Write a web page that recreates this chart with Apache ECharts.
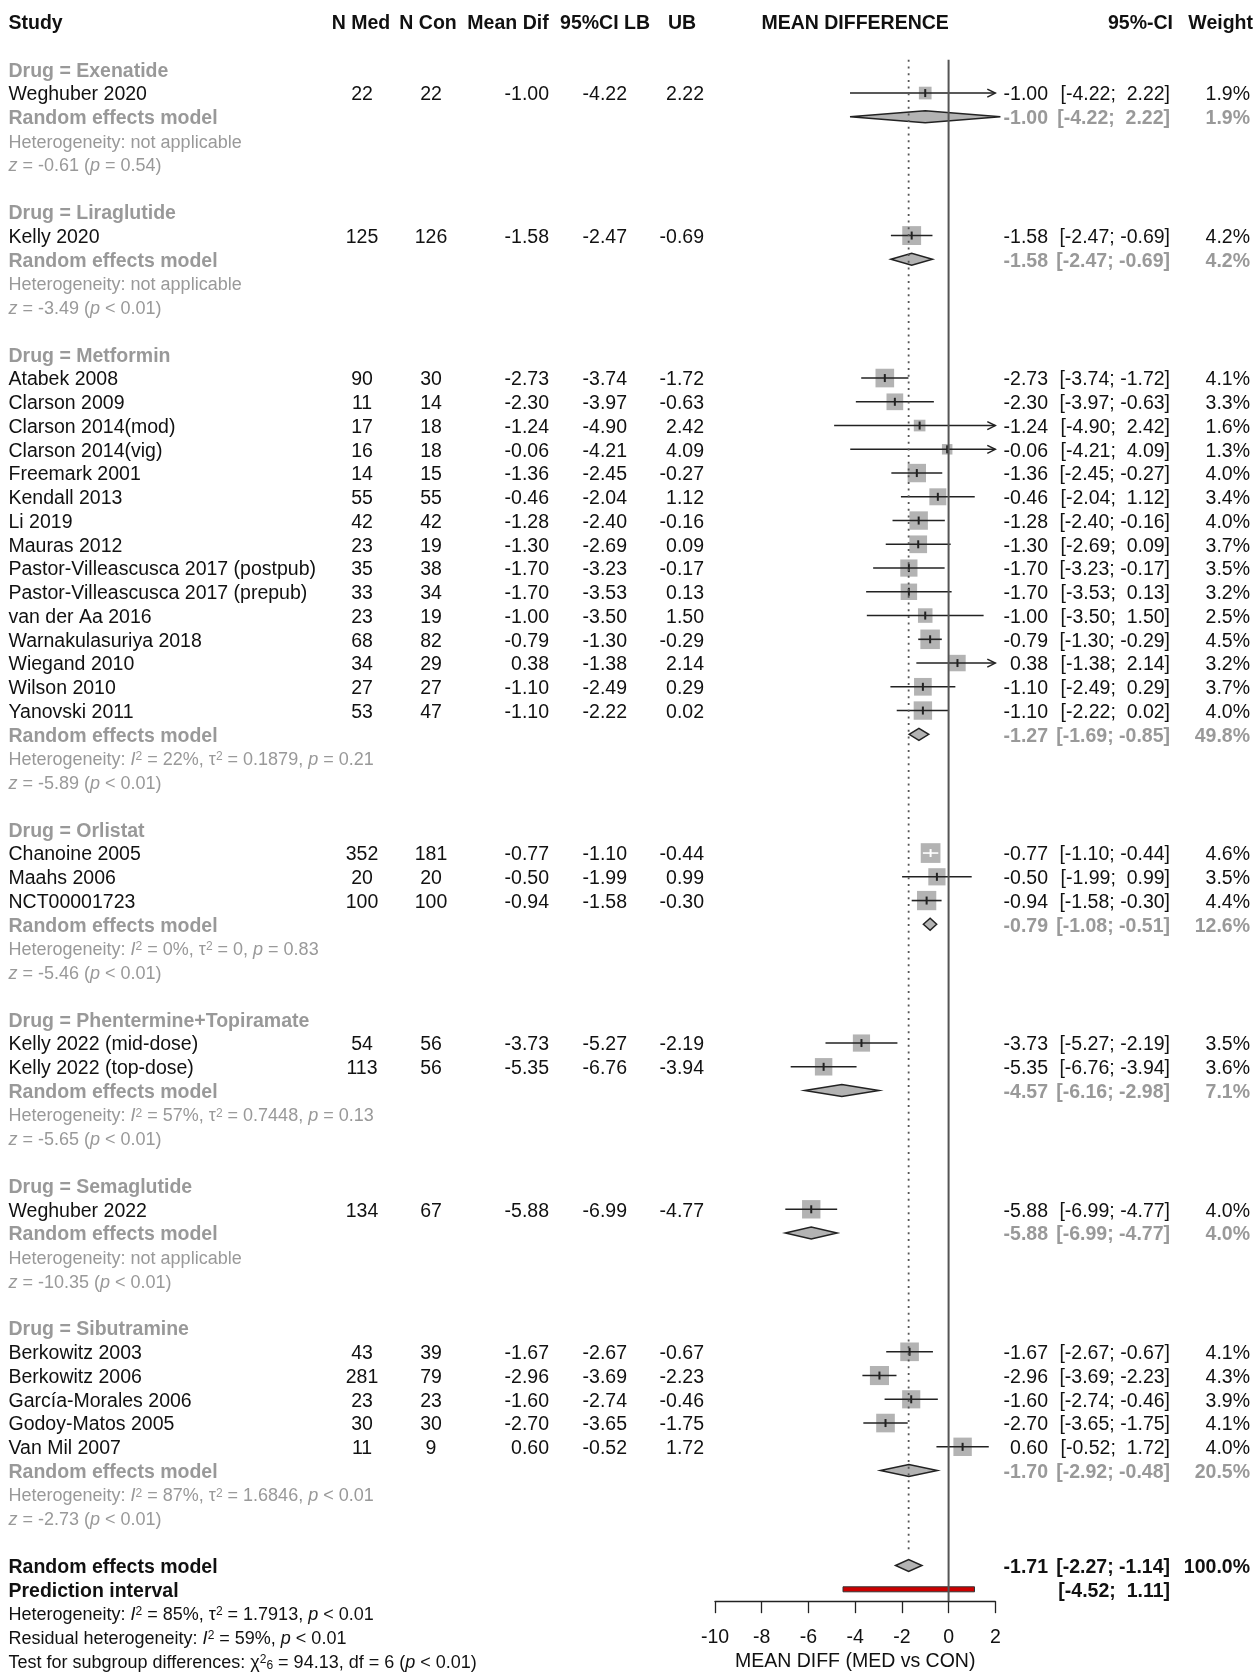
<!DOCTYPE html>
<html>
<head>
<meta charset="utf-8">
<script src="https://cdn.jsdelivr.net/npm/echarts@6/dist/echarts.min.js"></script>
<style>
  html, body { margin: 0; padding: 0; background: #fff; }
  #chart { width: 1254px; height: 1672px; }
</style>
</head>
<body>
<div id="chart"></div>
<script>
// ---- data ----
const drugs = ['Exenatide', 'Liraglutide', 'Metformin', 'Orlistat', 'Phentermine+Topiramate', 'Semaglutide', 'Sibutramine'];

const studies = [
  'Weghuber 2020',
  'Kelly 2020',
  'Atabek 2008', 'Clarson 2009', 'Clarson 2014(mod)', 'Clarson 2014(vig)', 'Freemark 2001', 'Kendall 2013',
  'Li 2019', 'Mauras 2012', 'Pastor-Villeascusca 2017 (postpub)', 'Pastor-Villeascusca 2017 (prepub)',
  'van der Aa 2016', 'Warnakulasuriya 2018', 'Wiegand 2010', 'Wilson 2010', 'Yanovski 2011',
  'Chanoine 2005', 'Maahs 2006', 'NCT00001723',
  'Kelly 2022 (mid-dose)', 'Kelly 2022 (top-dose)',
  'Weghuber 2022',
  'Berkowitz 2003', 'Berkowitz 2006', 'García-Morales 2006', 'Godoy-Matos 2005', 'Van Mil 2007'
];
const studyDrug = [0, 1, 2, 2, 2, 2, 2, 2, 2, 2, 2, 2, 2, 2, 2, 2, 2, 3, 3, 3, 4, 4, 5, 6, 6, 6, 6, 6];
const nMed = [22, 125, 90, 11, 17, 16, 14, 55, 42, 23, 35, 33, 23, 68, 34, 27, 53, 352, 20, 100, 54, 113, 134, 43, 281, 23, 30, 11];
const nCon = [22, 126, 30, 14, 18, 18, 15, 55, 42, 19, 38, 34, 19, 82, 29, 27, 47, 181, 20, 100, 56, 56, 67, 39, 79, 23, 30, 9];
const meanDif = [-1.00, -1.58, -2.73, -2.30, -1.24, -0.06, -1.36, -0.46, -1.28, -1.30, -1.70, -1.70, -1.00, -0.79, 0.38, -1.10, -1.10,
  -0.77, -0.50, -0.94, -3.73, -5.35, -5.88, -1.67, -2.96, -1.60, -2.70, 0.60];
const ciLB = [-4.22, -2.47, -3.74, -3.97, -4.90, -4.21, -2.45, -2.04, -2.40, -2.69, -3.23, -3.53, -3.50, -1.30, -1.38, -2.49, -2.22,
  -1.10, -1.99, -1.58, -5.27, -6.76, -6.99, -2.67, -3.69, -2.74, -3.65, -0.52];
const ciUB = [2.22, -0.69, -1.72, -0.63, 2.42, 4.09, -0.27, 1.12, -0.16, 0.09, -0.17, 0.13, 1.50, -0.29, 2.14, 0.29, 0.02,
  -0.44, 0.99, -0.30, -2.19, -3.94, -4.77, -0.67, -2.23, -0.46, -1.75, 1.72];
const weight = [1.9, 4.2, 4.1, 3.3, 1.6, 1.3, 4.0, 3.4, 4.0, 3.7, 3.5, 3.2, 2.5, 4.5, 3.2, 3.7, 4.0,
  4.6, 3.5, 4.4, 3.5, 3.6, 4.0, 4.1, 4.3, 3.9, 4.1, 4.0];

const subMean = [-1.00, -1.58, -1.27, -0.79, -4.57, -5.88, -1.70];
const subLB = [-4.22, -2.47, -1.69, -1.08, -6.16, -6.99, -2.92];
const subUB = [2.22, -0.69, -0.85, -0.51, -2.98, -4.77, -0.48];
const subWeight = [1.9, 4.2, 49.8, 12.6, 7.1, 4.0, 20.5];
const subHet = [
  'Heterogeneity: not applicable',
  'Heterogeneity: not applicable',
  'Heterogeneity: {i|I}{s|2} = 22%, τ{s|2} = 0.1879, {i|p} = 0.21',
  'Heterogeneity: {i|I}{s|2} = 0%, τ{s|2} = 0, {i|p} = 0.83',
  'Heterogeneity: {i|I}{s|2} = 57%, τ{s|2} = 0.7448, {i|p} = 0.13',
  'Heterogeneity: not applicable',
  'Heterogeneity: {i|I}{s|2} = 87%, τ{s|2} = 1.6846, {i|p} < 0.01'
];
const subZ = [
  '{i|z} = -0.61 ({i|p} = 0.54)',
  '{i|z} = -3.49 ({i|p} < 0.01)',
  '{i|z} = -5.89 ({i|p} < 0.01)',
  '{i|z} = -5.46 ({i|p} < 0.01)',
  '{i|z} = -5.65 ({i|p} < 0.01)',
  '{i|z} = -10.35 ({i|p} < 0.01)',
  '{i|z} = -2.73 ({i|p} < 0.01)'
];

const overall = [-1.71, -2.27, -1.14, 100.0];   // mean, lb, ub, weight
const predInt = [-4.52, 1.11];
const overallNotes = [
  'Heterogeneity: {i|I}{s|2} = 85%, τ{s|2} = 1.7913, {i|p} < 0.01',
  'Residual heterogeneity: {i|I}{s|2} = 59%, {i|p} < 0.01',
  'Test for subgroup differences: χ{s|2}{b|6} = 94.13, df = 6 ({i|p} < 0.01)'
];

const xMin = -10, xMax = 2, xStep = 2;

// ---- layout ----
const W = 1254, H = 1672;
const ROW0 = 69.3, ROWH = 23.75;
const rowY = r => ROW0 + r * ROWH;
const R_TOP = -0.4, R_AXIS = 64.5, R_DOT_END = 62.5;
const PLOT_L = 715, PLOT_R = 995.3;
const TEXT_DY = 2;

const COL = { study: 8.5, nMed: 362, nCon: 431, md: 549, lb: 627, ub: 704, est: 1048, ci: 1170, w: 1250 };
const FONT = "'Liberation Sans', Arial, Helvetica, sans-serif";
const GREY = '#999999';
const BLACK = '#111111';
const SQUARE_FILL = '#b3b3b3';
const SQUARE_K = 9.2;

const styles = {
  head:  { fontWeight: 'bold', fontSize: 19.5, fill: BLACK },
  group: { fontWeight: 'bold', fontSize: 19.5, fill: GREY },
  study: { fontWeight: 'normal', fontSize: 19.5, fill: BLACK },
  sub:   { fontWeight: 'bold', fontSize: 19.5, fill: GREY },
  het:   { fontWeight: 'normal', fontSize: 18, fill: GREY },
  total: { fontWeight: 'bold', fontSize: 19.5, fill: BLACK },
  note:  { fontWeight: 'normal', fontSize: 18, fill: BLACK }
};

function richFor(color) {
  return {
    i: { fontStyle: 'italic', fontSize: 18, fontFamily: FONT, fill: color },
    s: { fontSize: 12, fontFamily: FONT, fill: color, verticalAlign: 'top' },
    b: { fontSize: 12, fontFamily: FONT, fill: color, verticalAlign: 'bottom' }
  };
}

const fmt = v => v.toFixed(2);
const fmtCI = (lo, hi) => '[' + (lo >= 0 ? ' ' : '') + fmt(lo) + ';' + (hi >= 0 ? '  ' : ' ') + fmt(hi) + ']';

const texts = [];
function addText(x, row, text, align, style) {
  texts.push({ x, row, text, align, style });
}

// header
addText(COL.study, -2, 'Study', 'left', 'head');
addText(361, -2, 'N Med', 'center', 'head');
addText(428, -2, 'N Con', 'center', 'head');
addText(508, -2, 'Mean Dif', 'center', 'head');
addText(605, -2, '95%CI LB', 'center', 'head');
addText(682, -2, 'UB', 'center', 'head');
addText((PLOT_L + PLOT_R) / 2, -2, 'MEAN DIFFERENCE', 'center', 'head');
addText(1173, -2, '95%-CI', 'right', 'head');
addText(1253, -2, 'Weight', 'right', 'head');

const studyData = [];
const diamondData = [];
let r = 0;
drugs.forEach((d, g) => {
  addText(COL.study, r, 'Drug = ' + d, 'left', 'group');
  r++;
  studies.forEach((s, i) => {
    if (studyDrug[i] !== g) return;
    addText(COL.study, r, s, 'left', 'study');
    addText(COL.nMed, r, String(nMed[i]), 'center', 'study');
    addText(COL.nCon, r, String(nCon[i]), 'center', 'study');
    addText(COL.md, r, fmt(meanDif[i]), 'right', 'study');
    addText(COL.lb, r, fmt(ciLB[i]), 'right', 'study');
    addText(COL.ub, r, fmt(ciUB[i]), 'right', 'study');
    addText(COL.est, r, fmt(meanDif[i]), 'right', 'study');
    addText(COL.ci, r, fmtCI(ciLB[i], ciUB[i]), 'right', 'study');
    addText(COL.w, r, weight[i].toFixed(1) + '%', 'right', 'study');
    studyData.push([meanDif[i], ciLB[i], ciUB[i], weight[i], r]);
    r++;
  });
  addText(COL.study, r, 'Random effects model', 'left', 'sub');
  addText(COL.est, r, fmt(subMean[g]), 'right', 'sub');
  addText(COL.ci, r, fmtCI(subLB[g], subUB[g]), 'right', 'sub');
  addText(COL.w, r, subWeight[g].toFixed(1) + '%', 'right', 'sub');
  diamondData.push([subMean[g], subLB[g], subUB[g], r]);
  r++;
  addText(COL.study, r, subHet[g], 'left', 'het');
  r++;
  addText(COL.study, r, subZ[g], 'left', 'het');
  r += 2;
});

const rowTotal = r;
addText(COL.study, rowTotal, 'Random effects model', 'left', 'total');
addText(COL.est, rowTotal, fmt(overall[0]), 'right', 'total');
addText(COL.ci, rowTotal, fmtCI(overall[1], overall[2]), 'right', 'total');
addText(COL.w, rowTotal, overall[3].toFixed(1) + '%', 'right', 'total');
diamondData.push([overall[0], overall[1], overall[2], rowTotal]);
addText(COL.study, rowTotal + 1, 'Prediction interval', 'left', 'total');
addText(COL.ci, rowTotal + 1, fmtCI(predInt[0], predInt[1]), 'right', 'total');
overallNotes.forEach((t, k) => addText(COL.study, rowTotal + 2 + k, t, 'left', 'note'));

// ---- render helpers ----
function renderStudy(params, api) {
  const m = api.value(0), lo = api.value(1), hi = api.value(2), w = api.value(3), row = api.value(4);
  const c = api.coord([m, row]);
  const y = c[1];
  const xLo = api.coord([Math.max(lo, xMin), row])[0];
  const xHi = api.coord([Math.min(hi, xMax), row])[0];
  const side = SQUARE_K * Math.sqrt(w);
  const inside = (xHi - xLo) < side;
  const lc = inside ? '#ffffff' : '#222222';
  const children = [
    { type: 'rect', shape: { x: c[0] - side / 2, y: y - side / 2, width: side, height: side }, style: { fill: SQUARE_FILL } },
    { type: 'line', shape: { x1: xLo, y1: y, x2: xHi, y2: y }, style: { stroke: lc, lineWidth: 1.6 } },
    { type: 'line', shape: { x1: c[0], y1: y - 4, x2: c[0], y2: y + 4 }, style: { stroke: lc, lineWidth: 2 } }
  ];
  if (hi > xMax) {
    children.push({ type: 'polyline', shape: { points: [[xHi - 8, y - 4], [xHi, y], [xHi - 8, y + 4]] },
      style: { stroke: '#222222', fill: 'none', lineWidth: 1.5 } });
  }
  if (lo < xMin) {
    children.push({ type: 'polyline', shape: { points: [[xLo + 8, y - 4], [xLo, y], [xLo + 8, y + 4]] },
      style: { stroke: '#222222', fill: 'none', lineWidth: 1.5 } });
  }
  return { type: 'group', children };
}

function renderDiamond(params, api) {
  const row = api.value(3);
  const c = api.coord([api.value(0), row]);
  const lo = api.coord([api.value(1), row]);
  const hi = api.coord([api.value(2), row]);
  const h = 6;
  return {
    type: 'polygon',
    shape: { points: [[lo[0], c[1]], [c[0], c[1] - h], [hi[0], c[1]], [c[0], c[1] + h]] },
    style: { fill: SQUARE_FILL, stroke: '#222222', lineWidth: 1.5 }
  };
}

function renderPred(params, api) {
  const row = api.value(2);
  const lo = api.coord([api.value(0), row]);
  const hi = api.coord([api.value(1), row]);
  return {
    type: 'rect',
    shape: { x: lo[0], y: lo[1] - 2.5, width: hi[0] - lo[0], height: 5 },
    style: { fill: '#cc0000', stroke: '#333333', lineWidth: 1 }
  };
}

function renderText(params, api) {
  const t = texts[params.dataIndex];
  const p = api.coord([t.x, t.row]);
  const st = styles[t.style];
  return {
    type: 'text',
    x: p[0],
    y: p[1] + TEXT_DY,
    style: {
      text: t.text,
      fontFamily: FONT,
      fontSize: st.fontSize,
      fontWeight: st.fontWeight,
      fill: st.fill,
      align: t.align,
      verticalAlign: 'middle',
      rich: richFor(st.fill)
    }
  };
}

// ---- chart ----
const chart = echarts.init(document.getElementById('chart'), null, { renderer: 'canvas' });

const option = {
  animation: false,
  backgroundColor: '#ffffff',
  grid: [
    { left: PLOT_L, width: PLOT_R - PLOT_L, top: rowY(R_TOP), height: rowY(R_AXIS) - rowY(R_TOP),
      outerBoundsMode: 'none', containLabel: false },
    { left: 0, top: 0, width: W, height: H, outerBoundsMode: 'none', containLabel: false }
  ],
  xAxis: [
    {
      gridIndex: 0, type: 'value', min: xMin, max: xMax, interval: xStep,
      name: 'MEAN DIFF (MED vs CON)', nameLocation: 'middle', nameGap: 50,
      nameTextStyle: { fontFamily: FONT, fontSize: 19.5, color: BLACK },
      axisLine: { onZero: false, lineStyle: { color: '#222222', width: 1.3 } },
      axisTick: { length: 12, lineStyle: { color: '#222222', width: 1.3 } },
      axisLabel: { fontFamily: FONT, fontSize: 19.5, color: BLACK, margin: 26 },
      splitLine: { show: false }
    },
    { gridIndex: 1, type: 'value', min: 0, max: W, show: false }
  ],
  yAxis: [
    { gridIndex: 0, type: 'value', min: R_TOP, max: R_AXIS, inverse: true, show: false },
    { gridIndex: 1, type: 'value', min: (0 - ROW0) / ROWH, max: (H - ROW0) / ROWH, inverse: true, show: false }
  ],
  series: [
    {
      type: 'line', xAxisIndex: 0, yAxisIndex: 0, symbol: 'none', silent: true,
      data: [[0, R_TOP], [0, R_AXIS]],
      lineStyle: { color: '#555555', width: 2 }
    },
    {
      type: 'line', xAxisIndex: 0, yAxisIndex: 0, symbol: 'none', silent: true,
      data: [[overall[0], R_TOP], [overall[0], R_DOT_END]],
      lineStyle: { color: '#555555', width: 1.8, type: [2, 4.7] }
    },
    {
      type: 'custom', xAxisIndex: 0, yAxisIndex: 0, clip: false,
      renderItem: renderStudy, data: studyData
    },
    {
      type: 'custom', xAxisIndex: 0, yAxisIndex: 0, clip: false,
      renderItem: renderDiamond, data: diamondData
    },
    {
      type: 'custom', xAxisIndex: 0, yAxisIndex: 0, clip: false,
      renderItem: renderPred, data: [[predInt[0], predInt[1], rowTotal + 1]]
    },
    {
      type: 'custom', xAxisIndex: 1, yAxisIndex: 1, clip: false, silent: true,
      renderItem: renderText, data: texts.map((t, i) => [t.x, t.row, i])
    }
  ]
};

chart.setOption(option);
window.addEventListener('resize', () => chart.resize());
</script>
</body>
</html>
